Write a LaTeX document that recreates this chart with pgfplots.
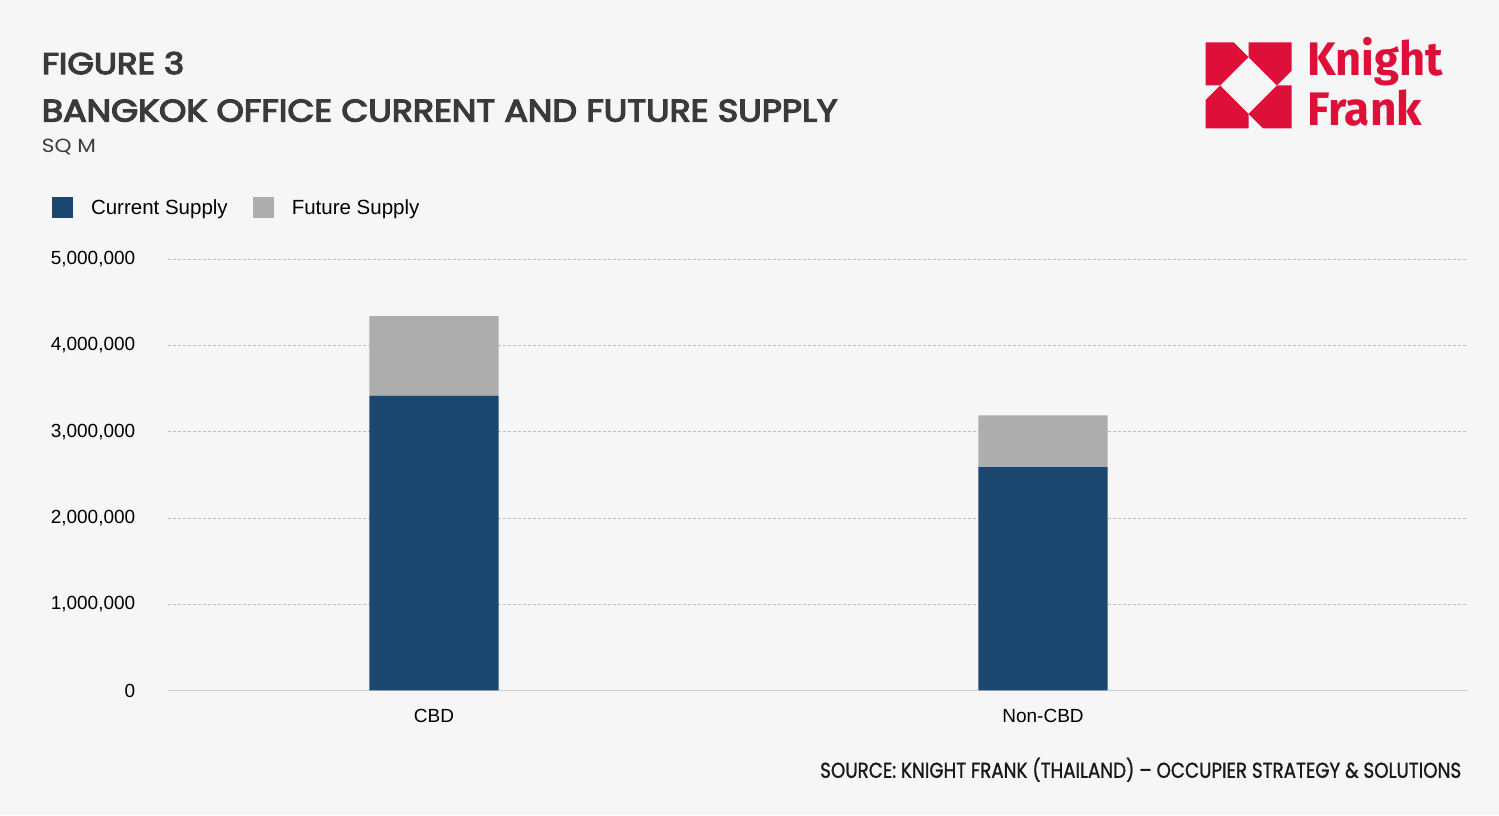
\documentclass[border=0pt]{standalone}
\usepackage{fontspec}
\setmainfont{Liberation Sans}
\newfontfamily\pop{Poppins}
\newfontfamily\popm{Poppins}[FakeBold=1.2]
\newfontfamily\popt{Poppins}[FakeBold=4]
\newfontfamily\kf{Fira Sans}
\usepackage{graphicx}
\usepackage{pgfplots}
\pgfplotsset{compat=1.18}
\definecolor{bg}{RGB}{245,246,245}
\definecolor{navy}{RGB}{28,71,110}
\definecolor{fut}{RGB}{173,173,173}
\definecolor{kfred}{RGB}{222,16,58}
\definecolor{ttl}{RGB}{58,58,58}
\definecolor{gridc}{RGB}{190,190,190}
\definecolor{axc}{RGB}{205,205,205}

\pgfplotstableread{
x current future
0 3420000 920000
1 2590000 600000
}\supply

\begin{document}
\begin{tikzpicture}[x=1bp,y=1bp]
\fill[bg] (0,0) rectangle (1499,815);
% titles
\node[anchor=south west, inner sep=0pt, text=ttl] at (41.7,740.7) {\resizebox{142.3bp}{21bp}{\popt\smash{FIGURE 3}\vphantom{E}}};
\node[anchor=south west, inner sep=0pt, text=ttl] at (41.7,693.3) {\resizebox{795.3bp}{21.7bp}{\popt\smash{BANGKOK OFFICE CURRENT AND FUTURE SUPPLY}\vphantom{E}}};
\node[anchor=south west, inner sep=0pt, text=ttl] at (41.7,662.7) {\resizebox{54bp}{13.3bp}{\pop\smash{SQ M}\vphantom{E}}};
\node[anchor=south west, inner sep=0pt, text=black!90] at (820,37) {\resizebox{641bp}{15bp}{\popm\smash{SOURCE: KNIGHT FRANK (THAILAND) – OCCUPIER STRATEGY \& SOLUTIONS}\vphantom{E}}};
% logo
\begin{scope}[shift={(1205.5,772.5)}, x=86bp, y=-86bp]
\fill[kfred] (0.5,0) -- (1,0) -- (1,0.33) -- (0.83,0.5) -- (0.5,0.17) -- cycle;
\fill[kfred] (1,0.5) -- (1,1) -- (0.67,1) -- (0.5,0.83) -- (0.83,0.5) -- cycle;
\fill[kfred] (0.5,1) -- (0,1) -- (0,0.67) -- (0.17,0.5) -- (0.5,0.83) -- cycle;
\fill[kfred] (0,0.5) -- (0,0) -- (0.33,0) -- (0.5,0.17) -- (0.17,0.5) -- cycle;
\end{scope}
\node[anchor=south west, inner sep=0pt, text=kfred] at (1307,739.7) {\resizebox{136bp}{32.6bp}{\kf\bfseries\smash{Knight}\vphantom{K}}};
\node[anchor=south west, inner sep=0pt, text=kfred] at (1307,689.7) {\resizebox{114.7bp}{32.6bp}{\kf\bfseries\smash{Frank}\vphantom{F}}};

\begin{axis}[
  at={(168bp,124.5bp)}, anchor=south west,
  scale only axis, width=1300bp, height=431.2bp,
  xmin=-0.4368, xmax=1.6979, ymin=0, ymax=5000000,
  ybar stacked, bar width=0.2125,
  xtick={0,1}, xticklabels={CBD,Non-CBD},
  ytick={0,1000000,2000000,3000000,4000000,5000000},
  ymajorgrids, grid style={gridc, dash pattern=on 3bp off 2bp, line width=0.75bp},
  axis x line*=bottom, axis y line*=left,
  x axis line style={axc, line width=1.2bp, -},
  y axis line style={draw=none},
  major tick length=0pt,
  tick label style={font=\fontsize{19bp}{23bp}\selectfont, text=black},
  yticklabel style={inner sep=0pt, inner xsep=32.5bp, anchor=east},
  xticklabel style={inner sep=0pt, inner ysep=18.5bp, anchor=north},
  scaled y ticks=false,
  /pgf/number format/.cd, fixed, 1000 sep={,}, assume math mode=true, /pgfplots/.cd,
  legend columns=2,
  legend image code/.code={\fill[#1] (0bp,-10.5bp) rectangle (21bp,10.5bp);},
  legend style={draw=none, fill=none, inner sep=0pt, outer sep=0pt,
    at={(-0.0892,1.1190)}, anchor=west,
    font=\fontsize{20.5bp}{24bp}\selectfont,
    nodes={inner sep=0pt},
    /tikz/every odd column/.append style={column sep=18bp},
    /tikz/every even column/.append style={column sep=25bp}},
]
\addplot[fill=navy, draw=none] table[x=x, y=current] {\supply};
\addplot[fill=fut, draw=none] table[x=x, y=future] {\supply};
\legend{Current Supply, Future Supply}
\end{axis}
\pgfresetboundingbox
\path[use as bounding box] (0,0) rectangle (1499,815);
\end{tikzpicture}
\end{document}
